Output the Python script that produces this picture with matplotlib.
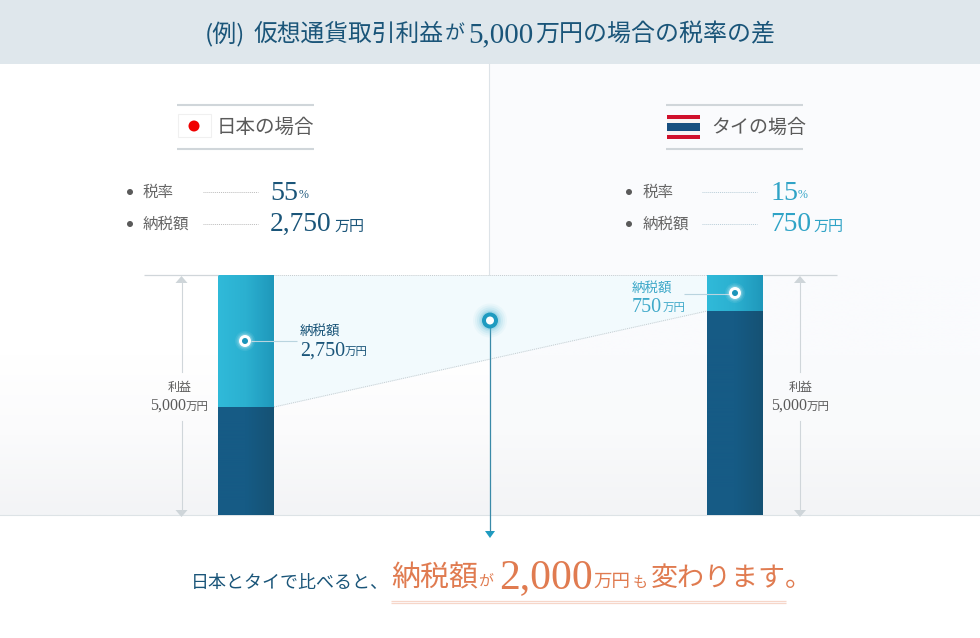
import numpy as np
import matplotlib
matplotlib.use('Agg')
import matplotlib.pyplot as plt
from matplotlib.patches import Circle, Polygon, Rectangle
from matplotlib.colors import LinearSegmentedColormap

plt.rcParams['font.family'] = ['Noto Sans CJK JP', 'DejaVu Sans']

# values, in 万円
profit = [5000, 5000]
tax = [2750, 750]
rates = [55, 15]
saving = 2000
bar_x = [246, 735]

NAVY = '#1a5579'
CYAN = '#2fa3c6'
ORANGE = '#e07b50'
GREY = '#5a5a5a'
RULE = '#d0d6da'
SERIF = 'Liberation Serif'
CJK = 'Noto Sans CJK JP'

fig = plt.figure(figsize=(9.8, 6.38), dpi=100)

# background, pixel coords
bg = fig.add_axes([0, 0, 1, 1], zorder=0)
bg.set_xlim(0, 980)
bg.set_ylim(638, 0)
bg.axis('off')
bg.add_patch(Rectangle((489, 64), 491, 212, color='#fafbfd', lw=0))
grad = np.linspace(1, 0, 100)[:, None]
grey_l = LinearSegmentedColormap.from_list('l', ['#f3f4f6', '#fbfbfc', '#ffffff', '#ffffff'])
grey_r = LinearSegmentedColormap.from_list('r', ['#f3f4f6', '#f9fafb', '#fafbfd', '#fafbfd'])
bg.imshow(grad, cmap=grey_l, extent=(0, 489, 515, 275), aspect='auto')
bg.imshow(grad, cmap=grey_r, extent=(489, 980, 515, 275), aspect='auto')
bg.set_xlim(0, 980)
bg.set_ylim(638, 0)
bg.add_patch(Rectangle((0, 0), 980, 64, color='#dfe7ec', lw=0))
bg.plot([489, 489], [64, 275], color='#dde3e8', lw=0.8)
bg.plot([0, 980], [515, 515], color='#dde3e6', lw=0.8)

# chart: x in pixels, y in 万円
ax = fig.add_axes([0, (638 - 515) / 638, 1, 240 / 638], zorder=1)
ax.set_xlim(0, 980)
ax.set_ylim(0, 5000)
ax.axis('off')
ax.patch.set_alpha(0)

bar_w = 56
tops = [p - t for p, t in zip(profit, tax)]
wedge_x = [bar_x[0] + bar_w / 2, bar_x[1] - bar_w / 2]
ax.fill_between(wedge_x, tops, profit, color='#f2fafd', lw=0)
ax.plot(wedge_x, tops, color='#c4cbcf', lw=0.7, ls=(0, (1, 1)))
ax.plot(wedge_x, profit, color='#c4cbcf', lw=0.7, ls=(0, (1, 1)))
dark = LinearSegmentedColormap.from_list('d', ['#165b85', '#165b85', '#155274'])
light = LinearSegmentedColormap.from_list('c', ['#30bad9', '#2bb0d0', '#1f98bb'])
ramp = np.linspace(0, 1, 56)[None, :]
for x, net, p in zip(bar_x, tops, profit):
    ax.imshow(ramp, cmap=dark, extent=(x - 28, x + 28, 0, net), aspect='auto', zorder=3)
    ax.imshow(ramp, cmap=light, extent=(x - 28, x + 28, net, p), aspect='auto', zorder=3)
ax.set_xlim(0, 980)
ax.set_ylim(0, 5000)

# overlay, pixel coords
ov = fig.add_axes([0, 0, 1, 1], zorder=2)
ov.set_xlim(0, 980)
ov.set_ylim(638, 0)
ov.axis('off')
ov.patch.set_alpha(0)


def txt(x, y, s, px, color, font=CJK, ha='left'):
    # va=center sits a bit high for these fonts
    dy = 0.1 * px if font == CJK else 0.08 * px + 0.5
    ov.text(x, y + dy, s, fontsize=px * 0.72, color=color, family=[font, 'DejaVu Sans'],
            ha=ha, va='center')


def hline(x0, x1, y, color, lw=1.0, ls='-'):
    ov.plot([x0, x1], [y, y], color=color, lw=lw, ls=ls, solid_capstyle='butt')


def dot(x, y, r, color, z=5):
    ov.add_patch(Circle((x, y), r, color=color, lw=0, zorder=z))


# title
txt(205, 32, '(例)', 24, NAVY)
txt(254, 32, '仮想通貨取引利益', 23.8, NAVY)
txt(445, 32, 'が', 20, NAVY)
txt(468, 33, f'{profit[0]:,}', 29, NAVY, SERIF)
txt(535, 32, '万円の場合の税率の差', 24, NAVY)

# country headers
for x0, x1 in [(177, 314), (666, 803)]:
    hline(x0, x1, 105, RULE, 1.5)
    hline(x0, x1, 149, RULE, 1.5)
ov.add_patch(Rectangle((177.5, 114), 33, 23, fc='white', ec='#f0f0f0', lw=0.8))
dot(194, 126, 5.5, '#f00000')
txt(217, 125, '日本の場合', 19.5, GREY)
for y, h, c in [(115, 24, '#d0102c'), (119, 16, '#f7f3f3'), (123, 8, '#174f80')]:
    ov.add_patch(Rectangle((667, y), 33, h, color=c, lw=0))
txt(711, 125, 'タイの場合', 19, GREY)

# stats lists
stat_rows = [
    (130, 143, 203, 270, NAVY, '#bcbcbc', rates[0], tax[0], 299, 334),
    (629, 643, 702, 770, CYAN, '#b8cdd8', rates[1], tax[1], 798, 813),
]
for bx, lx, dx, vx, col, dotcol, rate, amount, pct_x, unit_x in stat_rows:
    for y, label in [(192, '税率'), (224, '納税額')]:
        dot(bx, y, 3, GREY)
        txt(lx, y - 1, label, 15.5, '#666666')
        hline(dx, dx + 55, y - 0.5, dotcol, 0.7, (0, (1, 1)))
    txt(vx, 191, f'{rate}', 28, col, SERIF)
    txt(pct_x, 194, '%', 12, col, SERIF)
    txt(vx, 222, f'{amount:,}', 27.5, col, SERIF)
    txt(unit_x, 225, '万円', 15, col)

# top reference line beside bars
hline(144, 218, 275, RULE, 0.9)
hline(763, 837, 275, RULE, 0.9)

# height arrows and profit labels
for ax_x, cx, num_x, unit_x in [(181.5, 180, 150, 186), (800, 801, 771, 807)]:
    ov.plot([ax_x, ax_x], [280, 372], color=RULE, lw=0.8)
    ov.plot([ax_x, ax_x], [421, 512], color=RULE, lw=0.8)
    ov.add_patch(Polygon([(ax_x, 276), (ax_x - 6, 283), (ax_x + 6, 283)], color='#ced5d9', lw=0))
    ov.add_patch(Polygon([(ax_x, 517), (ax_x - 6, 510), (ax_x + 6, 510)], color='#ced5d9', lw=0))
    txt(cx, 386, '利益', 12, GREY, ha='center')
    txt(num_x, 404, f'{profit[0]:,}', 16, GREY, SERIF)
    txt(unit_x, 405, '万円', 11.5, GREY)

# bar callouts
hline(251, 297, 340.5, '#b9d4df', 0.8)
txt(300, 330, '納税額', 13.5, NAVY)
txt(300, 349, f'{tax[0]:,}', 20, NAVY, SERIF)
txt(345, 350, '万円', 11.5, NAVY)
hline(684, 730, 293.5, '#b9d4df', 0.8)
txt(632, 287, '納税額', 13.5, '#3fa9c9')
txt(632, 305, f'{tax[1]}', 20, '#3fa9c9', SERIF)
txt(663, 306, '万円', 11.5, '#3fa9c9')
for x, y in [(245, 341), (735, 293)]:
    for r, a in [(10, 0.08), (8.5, 0.12), (7.2, 0.2)]:
        ov.add_patch(Circle((x, y), r, color='white', alpha=a, lw=0, zorder=4))
    dot(x, y, 6, 'white')
    dot(x, y, 3, '#1c95ba', 6)

# centre marker and arrow
for r, a in [(17, 0.05), (15, 0.07), (13, 0.1), (11, 0.14), (9.5, 0.2)]:
    ov.add_patch(Circle((490, 320.5), r, color='#4cb5d2', alpha=a, lw=0, zorder=4))
ov.plot([489.5, 489.5], [328, 531], color='#3a8aa8', lw=0.9)
ov.add_patch(Polygon([(485, 531), (495, 531), (490, 538)], color='#1f9bc0', lw=0))
dot(490, 320.5, 8, '#1f9bc0')
dot(490, 320.5, 4, 'white', 6)

# bottom message
txt(191, 581, '日本とタイで比べると、', 18, NAVY)
txt(391, 576, '納税額', 29, ORANGE)
txt(478, 581, 'が', 15, ORANGE)
txt(499, 574, f'{saving:,}', 41.5, ORANGE, SERIF)
txt(593, 580, '万円', 18.5, ORANGE)
txt(633, 581, 'も', 15, ORANGE)
txt(651, 576, '変わります。', 27, ORANGE)
hline(391, 786, 601, '#f6d6c9', 0.9)
hline(391, 786, 603, '#f6d6c9', 0.9)

fig.savefig('out.png', dpi=100)
